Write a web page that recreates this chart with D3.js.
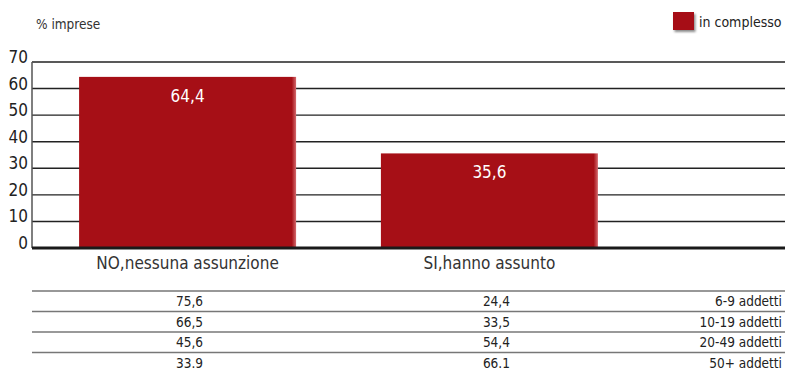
<!DOCTYPE html>
<html>
<head>
<meta charset="utf-8">
<script src="https://cdn.jsdelivr.net/npm/d3@7"></script>
<style>
  html, body { margin: 0; padding: 0; background: #fff; }
  svg { display: block; }
  text { font-family: "Liberation Sans Narrow", "Arial Narrow", "DejaVu Sans Condensed", sans-serif; }
</style>
</head>
<body>
<svg id="chart" width="785" height="371"></svg>
<script>
// Hiring outcome for all firms ("in complesso")
const categories = ["NO,nessuna assunzione", "SI,hanno assunto"];
const totals = [64.4, 35.6];
const yTicks = [0, 10, 20, 30, 40, 50, 60, 70];

// Breakdown by firm size, shown as a table under the chart
const sizeClasses = ["6-9 addetti", "10-19 addetti", "20-49 addetti", "50+ addetti"];
const noHiring = ["75,6", "66,5", "45,6", "33.9"];
const hiring = ["24,4", "33,5", "54,4", "66.1"];

const seriesName = "in complesso";
const barColor = "#a60f16";

const svg = d3.select("#chart");
const plotLeft = 32, plotRight = 785, plotTop = 62, plotBottom = 248;

const y = d3.scaleLinear().domain([0, 70]).range([plotBottom, plotTop]);
const x = d3.scaleBand()
  .domain(categories)
  .range([plotLeft, 645])
  .paddingInner(0.281)
  .paddingOuter(0.156);

const defs = svg.append("defs");
const grad = defs.append("linearGradient").attr("id", "barShade").attr("x1", 0).attr("x2", 1);
grad.append("stop").attr("offset", "0%").attr("stop-color", barColor);
grad.append("stop").attr("offset", "98%").attr("stop-color", barColor);
grad.append("stop").attr("offset", "100%").attr("stop-color", "#d46a6e");
const shadow = defs.append("filter").attr("id", "legendShadow")
  .attr("x", "-30%").attr("y", "-30%").attr("width", "170%").attr("height", "170%");
shadow.append("feDropShadow").attr("dx", 1.5).attr("dy", 2).attr("stdDeviation", 1.2)
  .attr("flood-color", "#000").attr("flood-opacity", 0.45);

// Horizontal grid lines
svg.append("g")
  .selectAll("line")
  .data(yTicks.filter(d => d > 0))
  .join("line")
  .attr("x1", plotLeft).attr("x2", plotRight)
  .attr("y1", d => y(d)).attr("y2", d => y(d))
  .attr("stroke", "#222").attr("stroke-width", 1.4);

// Vertical axis line
svg.append("line")
  .attr("x1", plotLeft).attr("x2", plotLeft)
  .attr("y1", y(70)).attr("y2", y(0))
  .attr("stroke", "#555").attr("stroke-width", 1.5);

// Tick labels
svg.append("g")
  .selectAll("text")
  .data(yTicks)
  .join("text")
  .attr("x", 28)
  .attr("y", d => y(d) + 1)
  .attr("text-anchor", "end")
  .attr("font-size", 17)
  .attr("fill", "#222")
  .text(d => d);

// Bars
svg.append("g")
  .selectAll("rect")
  .data(categories)
  .join("rect")
  .attr("x", d => x(d))
  .attr("width", x.bandwidth())
  .attr("y", (d, i) => y(totals[i]))
  .attr("height", (d, i) => y(0) - y(totals[i]))
  .attr("fill", "url(#barShade)");

// Baseline
svg.append("line")
  .attr("x1", plotLeft).attr("x2", plotRight)
  .attr("y1", y(0)).attr("y2", y(0))
  .attr("stroke", "#1a1a1a").attr("stroke-width", 3);

// Value labels inside bars
svg.append("g")
  .selectAll("text")
  .data(categories)
  .join("text")
  .attr("x", d => x(d) + x.bandwidth() / 2)
  .attr("y", (d, i) => y(totals[i]) + 25)
  .attr("text-anchor", "middle")
  .attr("font-size", 17)
  .attr("fill", "#fff")
  .text((d, i) => d3.format(".1f")(totals[i]).replace(".", ","));

// Category labels
svg.append("g")
  .selectAll("text")
  .data(categories)
  .join("text")
  .attr("x", d => x(d) + x.bandwidth() / 2)
  .attr("y", 269)
  .attr("text-anchor", "middle")
  .attr("font-size", 17)
  .attr("fill", "#333")
  .text(d => d);

// Axis title
svg.append("text")
  .attr("x", 36).attr("y", 29)
  .attr("font-size", 13.5)
  .attr("fill", "#333")
  .text("% imprese");

// Legend
svg.append("rect")
  .attr("x", 673).attr("y", 12).attr("width", 21).attr("height", 18)
  .attr("fill", barColor)
  .attr("filter", "url(#legendShadow)");
svg.append("text")
  .attr("x", 699).attr("y", 27)
  .attr("font-size", 14)
  .attr("fill", "#222")
  .text(seriesName);

// Size-class table
const rowY = d3.scaleBand().domain(sizeClasses).range([291, 373]);
const table = svg.append("g");
table.selectAll("line")
  .data(sizeClasses)
  .join("line")
  .attr("x1", plotLeft).attr("x2", plotRight)
  .attr("y1", d => rowY(d)).attr("y2", d => rowY(d))
  .attr("stroke", (d, i) => i === 0 ? "#333" : "#777")
  .attr("stroke-width", (d, i) => i === 0 ? 1.2 : 1.6);

const rows = table.selectAll("g.row")
  .data(sizeClasses)
  .join("g")
  .attr("class", "row")
  .attr("transform", d => `translate(0,${rowY(d) + rowY.bandwidth() / 2 + 5})`);

rows.append("text")
  .attr("x", x(categories[0]) + x.bandwidth() / 2 + 2)
  .attr("text-anchor", "middle")
  .attr("font-size", 13.5)
  .attr("fill", "#222")
  .text((d, i) => noHiring[i]);
rows.append("text")
  .attr("x", x(categories[1]) + x.bandwidth() / 2 + 7)
  .attr("text-anchor", "middle")
  .attr("font-size", 13.5)
  .attr("fill", "#222")
  .text((d, i) => hiring[i]);
rows.append("text")
  .attr("x", 782)
  .attr("text-anchor", "end")
  .attr("font-size", 13.5)
  .attr("fill", "#222")
  .text(d => d);
</script>
</body>
</html>
